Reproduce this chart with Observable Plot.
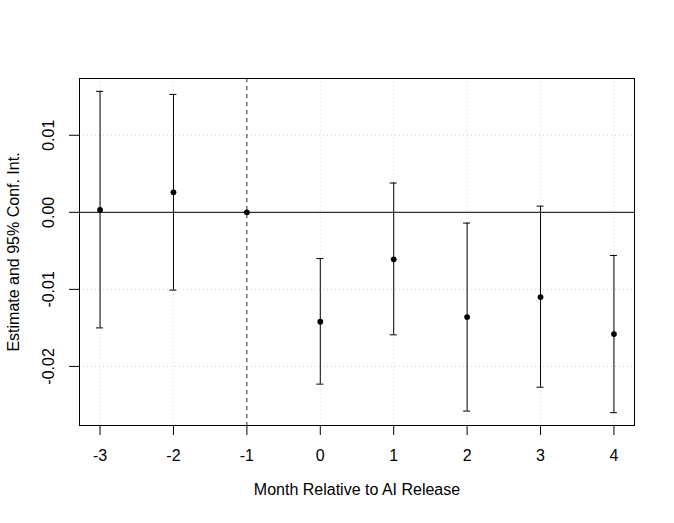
<!DOCTYPE html>
<html>
<head>
<meta charset="utf-8">
<script src="https://cdn.jsdelivr.net/npm/d3@7"></script>
<script src="https://cdn.jsdelivr.net/npm/@observablehq/plot@0.6"></script>
<style>
  html, body { margin: 0; padding: 0; background: #fff; }
  #chart { width: 674px; height: 523px; }
</style>
</head>
<body>
<div id="chart"></div>
<script>
// Event-study estimates by month relative to AI release
const months    = [-3, -2, -1, 0, 1, 2, 3, 4];
const estimates = [0.0003, 0.0026, 0.0, -0.0142, -0.0061, -0.0136, -0.0110, -0.0158];
const lowerCI   = [-0.0150, -0.0101, null, -0.0223, -0.0159, -0.0258, -0.0227, -0.0260];
const upperCI   = [0.0157, 0.0153, null, -0.0060, 0.0038, -0.0014, 0.0008, -0.0056];
const xTicks = [-3, -2, -1, 0, 1, 2, 3, 4];
const xTickLabels = ["-3", "-2", "-1", "0", "1", "2", "3", "4"];
const yTicks = [0.01, 0.0, -0.01, -0.02];
const yTickLabels = ["0.01", "0.00", "-0.01", "-0.02"];
const referenceMonth = -1;
const xTitle = "Month Relative to AI Release";
const yTitle = "Estimate and 95% Conf. Int.";

const rows = months.map((m, i) => ({month: m, est: estimates[i], lo: lowerCI[i], hi: upperCI[i]}));
const ciRows = rows.filter(d => d.lo != null && d.hi != null);

// R-style 4% axis extension
const allY = estimates.concat(lowerCI.filter(v => v != null), upperCI.filter(v => v != null));
const [yMin, yMax] = d3.extent(allY);
const yPad = (yMax - yMin) * 0.04;
const [xMin, xMax] = d3.extent(months);
const xPad = (xMax - xMin) * 0.04;

const FONT = "'Liberation Sans', Arial, Helvetica, sans-serif";
const FS = 16;

const chart = Plot.plot({
  width: 674,
  height: 523,
  marginLeft: 79,
  marginRight: 40,
  marginTop: 78,
  marginBottom: 98,
  style: {fontFamily: FONT, fontSize: FS + "px", background: "white", color: "black"},
  x: {domain: [xMin - xPad, xMax + xPad]},
  y: {domain: [yMin - yPad, yMax + yPad]},
  marks: [
    // dotted grid
    Plot.gridX(xTicks, {stroke: "#d3d3d3", strokeOpacity: 1, strokeDasharray: "1,3"}),
    Plot.gridY(yTicks, {stroke: "#d3d3d3", strokeOpacity: 1, strokeDasharray: "1,3"}),
    // zero line
    Plot.ruleY([0], {stroke: "black", strokeWidth: 1}),
    // reference month dashed line
    Plot.ruleX([referenceMonth], {stroke: "#333", strokeWidth: 1, strokeDasharray: "4,4"}),
    // confidence intervals
    Plot.ruleX(ciRows, {x: "month", y1: "lo", y2: "hi", stroke: "black", strokeWidth: 1}),
    Plot.ruleY(ciRows, {y: "lo", x1: "month", x2: "month", insetLeft: -3.5, insetRight: -3.5, stroke: "black", strokeWidth: 1}),
    Plot.ruleY(ciRows, {y: "hi", x1: "month", x2: "month", insetLeft: -3.5, insetRight: -3.5, stroke: "black", strokeWidth: 1}),
    // point estimates
    Plot.dot(rows, {x: "month", y: "est", r: 2.9, fill: "black", stroke: "none"}),
    // box
    Plot.frame({stroke: "black", strokeWidth: 1}),
    // axes
    Plot.axisX(xTicks, {anchor: "bottom", tickSize: 10, tickPadding: 14, tickFormat: (d) => xTickLabels[xTicks.indexOf(d)], label: null, fontSize: FS}),
    Plot.axisY(yTicks, {anchor: "left", tickSize: 10, tickPadding: 16, tickRotate: -90, tickFormat: (d) => yTickLabels[yTicks.indexOf(d)], label: null, fontSize: FS}),
    // titles
    Plot.text([xTitle], {text: d => d, frameAnchor: "bottom", dy: 69, fontSize: FS, fill: "black"}),
    Plot.text([yTitle], {text: d => d, frameAnchor: "left", dx: -66, rotate: -90, textAnchor: "middle", fontSize: FS, fill: "black"})
  ]
});

document.getElementById("chart").appendChild(chart);
</script>
</body>
</html>
